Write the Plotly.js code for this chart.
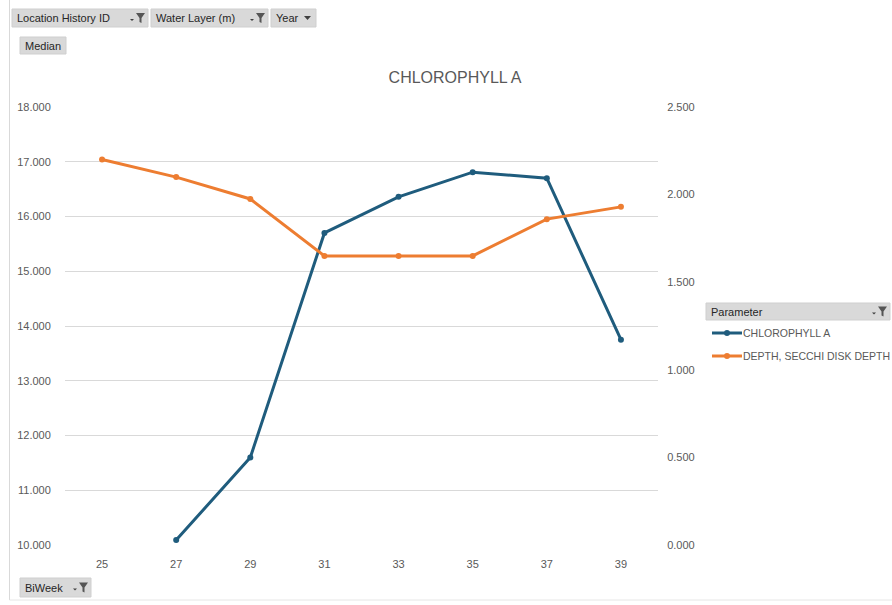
<!DOCTYPE html>
<html>
<head>
<meta charset="utf-8">
<script src="https://cdn.plot.ly/plotly-3.0.1.min.js"></script>
<style>
  html, body { margin: 0; padding: 0; background: #ffffff; }
  #chart { width: 892px; height: 605px; }
</style>
</head>
<body>
<div id="chart"></div>
<script>
// Bi-weekly medians per parameter
const biWeeks = ['25', '27', '29', '31', '33', '35', '37', '39'];
const chlorophyllA = [null, 10.09, 11.60, 15.70, 16.36, 16.81, 16.70, 13.75];
const secchiDepth = [2.20, 2.10, 1.975, 1.65, 1.65, 1.65, 1.86, 1.93];
const seriesNames = ['CHLOROPHYLL A', 'DEPTH, SECCHI DISK DEPTH'];
const seriesColors = ['#1f5c7d', '#ed7d31'];
const chartTitle = 'CHLOROPHYLL A';

// Pivot field buttons
const topFields = ['Location History ID', 'Water Layer (m)', 'Year'];
const valueField = 'Median';
const axisField = 'BiWeek';
const legendField = 'Parameter';

// Page geometry (pixels) and conversion into paper coordinates
const W = 892, H = 605;
const M = { l: 65, r: 234, t: 107, b: 60 };
const PW = W - M.l - M.r, PH = H - M.t - M.b;
const px = x => (x - M.l) / PW;
const py = y => (H - M.b - y) / PH;

const TEXT = '#595959';
const FONT = 'Liberation Sans, Arial, sans-serif';

const shapes = [];
const annotations = [];

function button(x0, y0, x1, y1, label, icon) {
  shapes.push({
    type: 'rect', xref: 'paper', yref: 'paper',
    x0: px(x0), x1: px(x1), y0: py(y1), y1: py(y0),
    fillcolor: '#d9d9d9', line: { color: '#cfcfcf', width: 1 }, layer: 'above'
  });
  annotations.push({
    xref: 'paper', yref: 'paper', x: px(x0 + 3), y: py((y0 + y1) / 2),
    xanchor: 'left', yanchor: 'middle', showarrow: false, text: label,
    font: { family: FONT, size: 11, color: '#262626' }
  });
  const ty = (y0 + y1) / 2;
  if (icon === 'filter') {
    // small drop arrow + funnel
    const ax = x1 - 18;
    shapes.push({
      type: 'path', xref: 'paper', yref: 'paper', layer: 'above',
      path: `M ${px(ax)},${py(ty + 1)} L ${px(ax + 4)},${py(ty + 1)} L ${px(ax + 2)},${py(ty + 3)} Z`,
      fillcolor: '#404040', line: { width: 0 }
    });
    const fx = x1 - 12;
    shapes.push({
      type: 'path', xref: 'paper', yref: 'paper', layer: 'above',
      path: `M ${px(fx)},${py(ty - 5)} L ${px(fx + 9)},${py(ty - 5)} L ${px(fx + 5.5)},${py(ty)} ` +
            `L ${px(fx + 5.5)},${py(ty + 5)} L ${px(fx + 3.5)},${py(ty + 4)} L ${px(fx + 3.5)},${py(ty)} Z`,
      fillcolor: '#555555', line: { width: 0 }
    });
  } else if (icon === 'drop') {
    const ax = x1 - 12;
    shapes.push({
      type: 'path', xref: 'paper', yref: 'paper', layer: 'above',
      path: `M ${px(ax)},${py(ty - 2)} L ${px(ax + 7)},${py(ty - 2)} L ${px(ax + 3.5)},${py(ty + 2)} Z`,
      fillcolor: '#404040', line: { width: 0 }
    });
  }
}

button(12, 9, 148, 27, topFields[0], 'filter');
button(151, 9, 268, 27, topFields[1], 'filter');
button(271, 9, 316, 27, topFields[2], 'drop');
button(20, 37, 66, 54, valueField, null);
button(20, 578, 91, 597, axisField, 'filter');
button(706, 303, 890, 320, legendField, 'filter');

// legend entries: line sample with a marker, then the series name
seriesNames.forEach((name, i) => {
  const ly = 333 + i * 23;
  shapes.push({ type: 'line', xref: 'paper', yref: 'paper', layer: 'above',
    x0: px(712), x1: px(742), y0: py(ly), y1: py(ly),
    line: { color: seriesColors[i], width: 3 } });
  shapes.push({ type: 'circle', xref: 'paper', yref: 'paper', layer: 'above',
    x0: px(724), x1: px(730), y0: py(ly + 3), y1: py(ly - 3),
    fillcolor: seriesColors[i], line: { width: 0 } });
  annotations.push({ xref: 'paper', yref: 'paper', x: px(741), y: py(ly),
    xanchor: 'left', yanchor: 'middle', showarrow: false, text: name,
    font: { family: FONT, size: 10.5, color: TEXT } });
});

// outer frame edges
shapes.push({ type: 'line', xref: 'paper', yref: 'paper', layer: 'below',
  x0: px(9.5), x1: px(9.5), y0: py(0), y1: py(600), line: { color: '#d9d9d9', width: 1 } });
shapes.push({ type: 'line', xref: 'paper', yref: 'paper', layer: 'below',
  x0: px(9.5), x1: px(892), y0: py(600), y1: py(600), line: { color: '#e6e6e6', width: 1 } });

const traces = [
  {
    x: biWeeks, y: chlorophyllA, name: seriesNames[0], type: 'scatter',
    mode: 'lines+markers', yaxis: 'y', connectgaps: false,
    line: { color: seriesColors[0], width: 3 },
    marker: { color: seriesColors[0], size: 6 }
  },
  {
    x: biWeeks, y: secchiDepth, name: seriesNames[1], type: 'scatter',
    mode: 'lines+markers', yaxis: 'y2',
    line: { color: seriesColors[1], width: 3 },
    marker: { color: seriesColors[1], size: 6 }
  }
];

const layout = {
  width: W, height: H,
  margin: M,
  paper_bgcolor: '#ffffff', plot_bgcolor: '#ffffff',
  font: { family: FONT, size: 11, color: TEXT },
  title: {
    text: chartTitle, xref: 'container', yref: 'container',
    x: 455 / W, y: 1 - 77 / H, xanchor: 'center', yanchor: 'middle',
    font: { family: FONT, size: 16, color: TEXT }
  },
  xaxis: {
    type: 'category', range: [-0.5, 7.5], showgrid: false, zeroline: false,
    showline: false, ticks: 'outside', ticklen: 9, tickcolor: 'rgba(0,0,0,0)',
    tickfont: { family: FONT, size: 11, color: TEXT }
  },
  yaxis: {
    range: [10, 18], dtick: 1, tickformat: '.3f', showgrid: true,
    gridcolor: '#d9d9d9', gridwidth: 1, zeroline: false, showline: false,
    ticks: 'outside', ticklen: 11, tickcolor: 'rgba(0,0,0,0)',
    tickfont: { family: FONT, size: 11, color: TEXT }
  },
  yaxis2: {
    overlaying: 'y', side: 'right', range: [0, 2.5], dtick: 0.5,
    tickformat: '.3f', showgrid: false, zeroline: false, showline: false,
    ticks: 'outside', ticklen: 6, tickcolor: 'rgba(0,0,0,0)',
    tickfont: { family: FONT, size: 11, color: TEXT }
  },
  showlegend: false,
  shapes: shapes,
  annotations: annotations
};

Plotly.newPlot('chart', traces, layout, { staticPlot: true, displayModeBar: false });
</script>
</body>
</html>
